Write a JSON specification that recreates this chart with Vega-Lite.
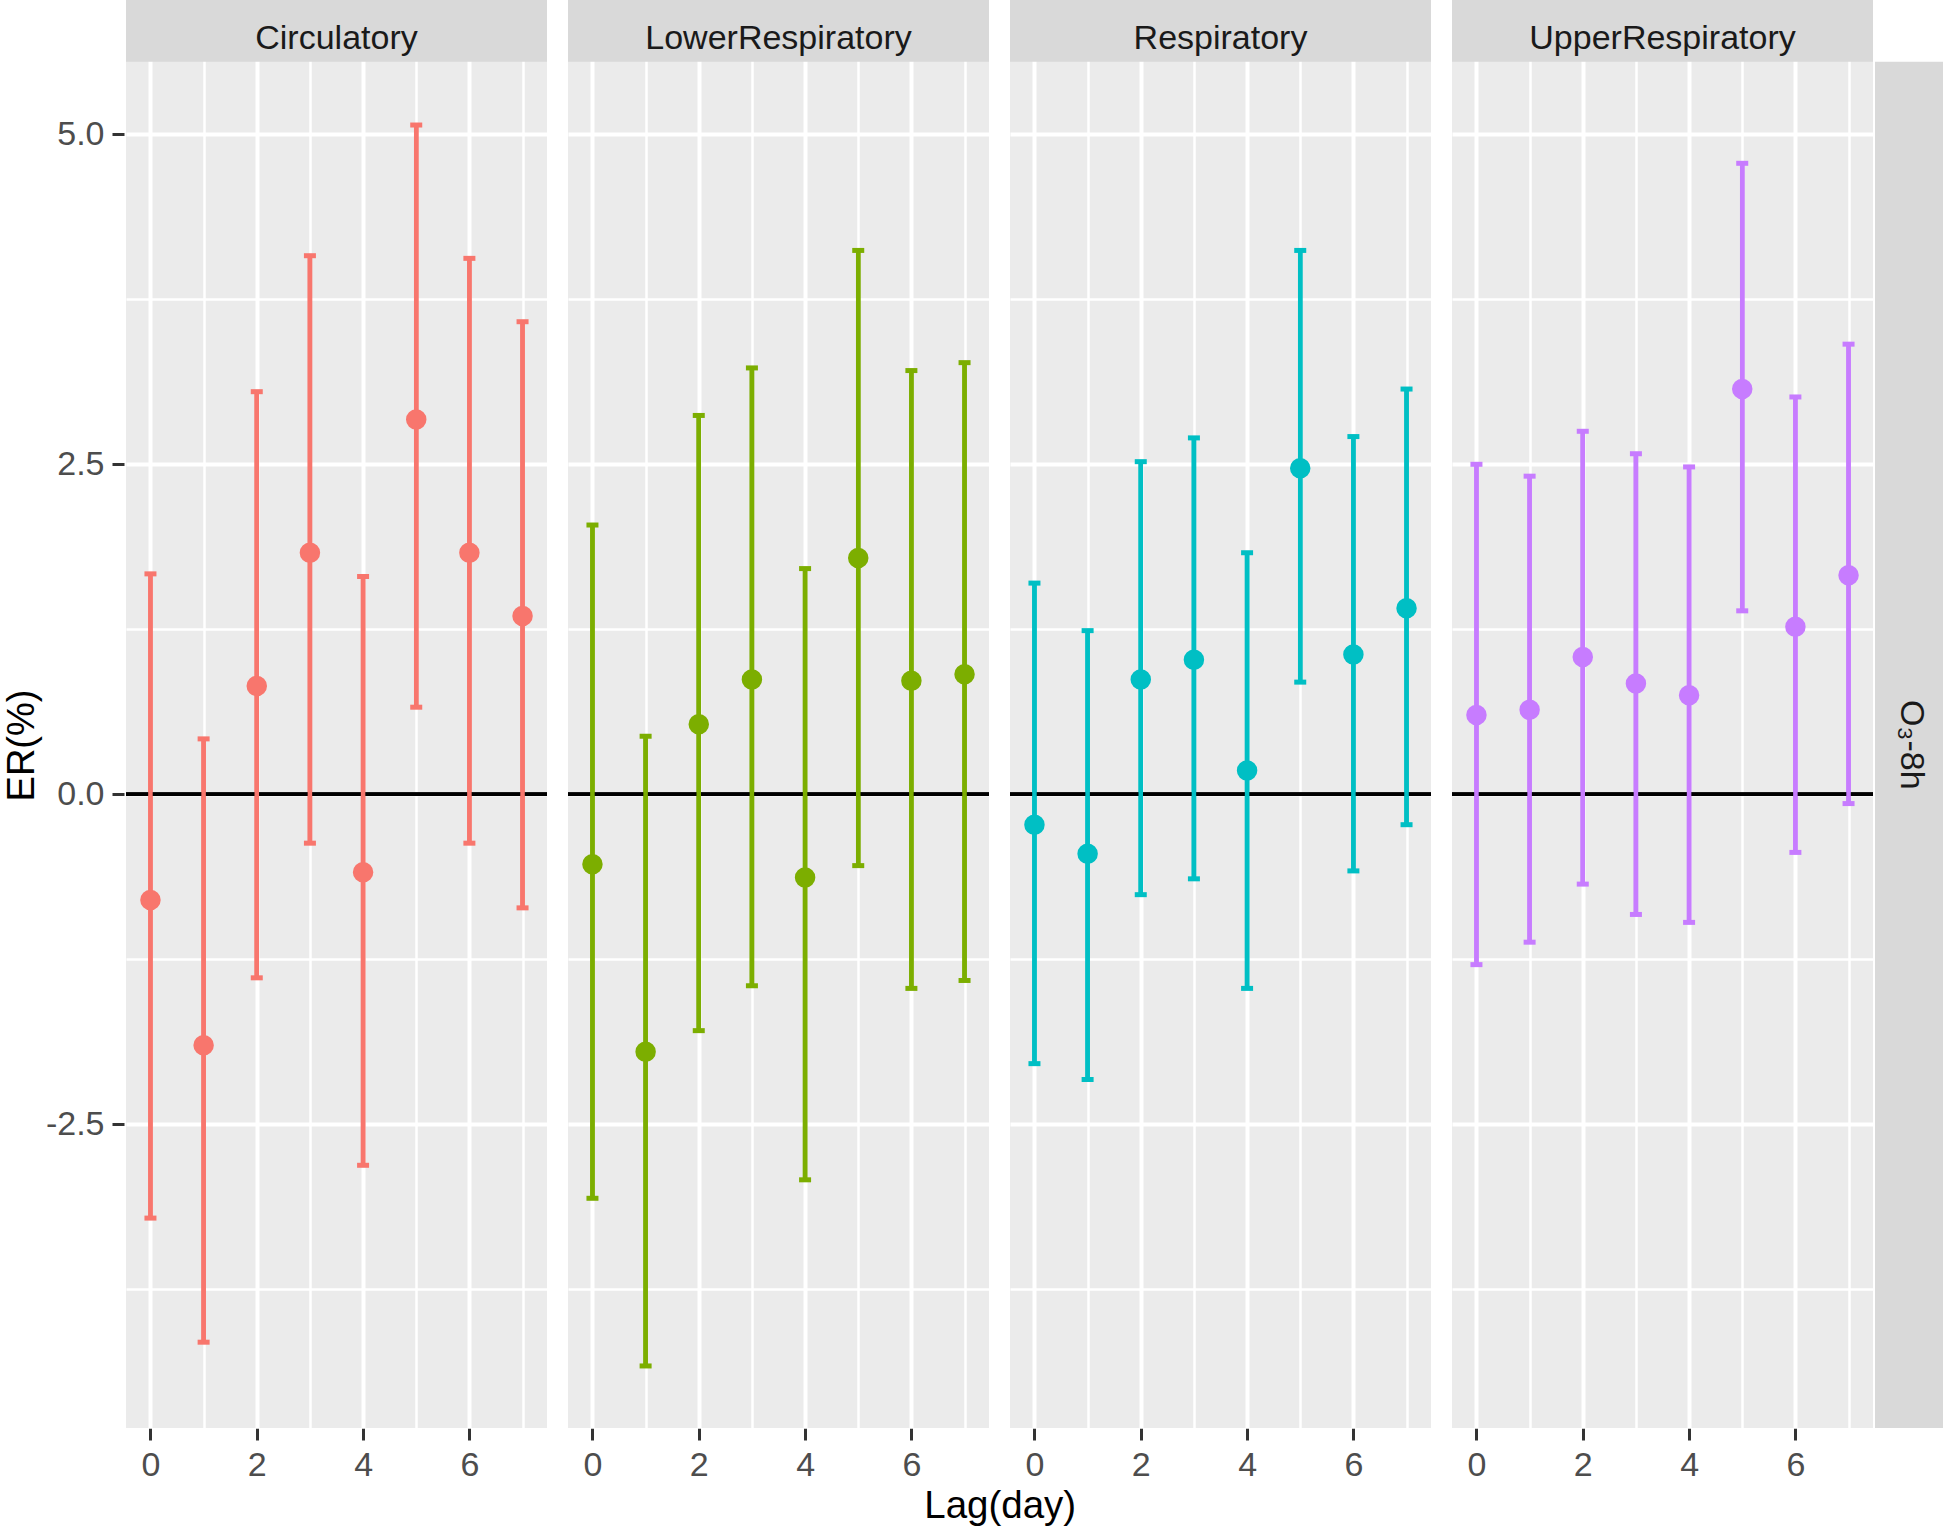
{
  "$schema": "https://vega.github.io/schema/vega-lite/v6.json",
  "padding": {"left": 3, "top": 0, "right": 0, "bottom": 0},
  "background": "white",
  "title": {"text": "Lag(day)", "orient": "bottom", "anchor": "middle", "fontSize": 38.5, "font": "Liberation Sans", "fontWeight": "normal", "color": "#000000", "offset": 6, "dx": 25},
  "datasets": {
    "er": [
      {"outcome": "Circulatory", "lag": 0, "er": -0.80, "lo": -3.21, "hi": 1.67},
      {"outcome": "Circulatory", "lag": 1, "er": -1.90, "lo": -4.15, "hi": 0.42},
      {"outcome": "Circulatory", "lag": 2, "er": 0.82, "lo": -1.39, "hi": 3.05},
      {"outcome": "Circulatory", "lag": 3, "er": 1.83, "lo": -0.37, "hi": 4.08},
      {"outcome": "Circulatory", "lag": 4, "er": -0.59, "lo": -2.81, "hi": 1.65},
      {"outcome": "Circulatory", "lag": 5, "er": 2.84, "lo": 0.66, "hi": 5.07},
      {"outcome": "Circulatory", "lag": 6, "er": 1.83, "lo": -0.37, "hi": 4.06},
      {"outcome": "Circulatory", "lag": 7, "er": 1.35, "lo": -0.86, "hi": 3.58},
      {"outcome": "LowerRespiratory", "lag": 0, "er": -0.53, "lo": -3.06, "hi": 2.04},
      {"outcome": "LowerRespiratory", "lag": 1, "er": -1.95, "lo": -4.33, "hi": 0.44},
      {"outcome": "LowerRespiratory", "lag": 2, "er": 0.53, "lo": -1.79, "hi": 2.87},
      {"outcome": "LowerRespiratory", "lag": 3, "er": 0.87, "lo": -1.45, "hi": 3.23},
      {"outcome": "LowerRespiratory", "lag": 4, "er": -0.63, "lo": -2.92, "hi": 1.71},
      {"outcome": "LowerRespiratory", "lag": 5, "er": 1.79, "lo": -0.54, "hi": 4.12},
      {"outcome": "LowerRespiratory", "lag": 6, "er": 0.86, "lo": -1.47, "hi": 3.21},
      {"outcome": "LowerRespiratory", "lag": 7, "er": 0.91, "lo": -1.41, "hi": 3.27},
      {"outcome": "Respiratory", "lag": 0, "er": -0.23, "lo": -2.04, "hi": 1.60},
      {"outcome": "Respiratory", "lag": 1, "er": -0.45, "lo": -2.16, "hi": 1.24},
      {"outcome": "Respiratory", "lag": 2, "er": 0.87, "lo": -0.76, "hi": 2.52},
      {"outcome": "Respiratory", "lag": 3, "er": 1.02, "lo": -0.64, "hi": 2.70},
      {"outcome": "Respiratory", "lag": 4, "er": 0.18, "lo": -1.47, "hi": 1.83},
      {"outcome": "Respiratory", "lag": 5, "er": 2.47, "lo": 0.85, "hi": 4.12},
      {"outcome": "Respiratory", "lag": 6, "er": 1.06, "lo": -0.58, "hi": 2.71},
      {"outcome": "Respiratory", "lag": 7, "er": 1.41, "lo": -0.23, "hi": 3.07},
      {"outcome": "UpperRespiratory", "lag": 0, "er": 0.60, "lo": -1.29, "hi": 2.50},
      {"outcome": "UpperRespiratory", "lag": 1, "er": 0.64, "lo": -1.12, "hi": 2.41},
      {"outcome": "UpperRespiratory", "lag": 2, "er": 1.04, "lo": -0.68, "hi": 2.75},
      {"outcome": "UpperRespiratory", "lag": 3, "er": 0.84, "lo": -0.91, "hi": 2.58},
      {"outcome": "UpperRespiratory", "lag": 4, "er": 0.75, "lo": -0.97, "hi": 2.48},
      {"outcome": "UpperRespiratory", "lag": 5, "er": 3.07, "lo": 1.39, "hi": 4.78},
      {"outcome": "UpperRespiratory", "lag": 6, "er": 1.27, "lo": -0.44, "hi": 3.01},
      {"outcome": "UpperRespiratory", "lag": 7, "er": 1.66, "lo": -0.07, "hi": 3.41}
    ]
  },
  "spacing": -2,
  "resolve": {"scale": {"x": "independent", "y": "independent"}},
  "hconcat": [
    {
      "data": {"name": "er"},
      "facet": {"column": {"field": "outcome", "type": "nominal", "header": {"labels": false, "title": null, "labelPadding": 0, "titlePadding": 0}, "sort": ["Circulatory", "LowerRespiratory", "Respiratory", "UpperRespiratory"]}},
      "spacing": 17,
      "spec": {
        "width": 421,
        "height": 1428,
        "view": {"fill": "#EBEBEB", "stroke": null},
        "layer": [
          {
            "mark": {"type": "rule", "strokeWidth": 4.5},
            "encoding": {
              "x": {"field": "lag", "type": "quantitative", "title": null,
                "scale": {"domain": [-0.46, 7.46], "nice": false, "zero": false},
                "axis": {
                  "values": [0, 1, 2, 3, 4, 5, 6, 7],
                  "labelExpr": "datum.value % 2 === 0 ? datum.label : ''",
                  "gridWidth": {"condition": {"test": "datum.value % 2 === 0", "value": 4}, "value": 2.5},
                  "tickOpacity": {"condition": {"test": "datum.value % 2 === 0", "value": 1}, "value": 0},
                  "labelPadding": 8
                }
              },
              "y": {"field": "lo", "type": "quantitative", "title": "ER(%)",
                "scale": {"domain": [-4.8, 6.017], "nice": false, "zero": false},
                "axis": {
                  "values": [-3.75, -2.5, -1.25, 0, 1.25, 2.5, 3.75, 5],
                  "labelExpr": "abs(datum.value % 2.5) < 0.001 ? (datum.value < 0 ? '-' : '') + format(abs(datum.value), '.1f') : ''",
                  "gridWidth": {"condition": {"test": "abs(datum.value % 2.5) < 0.001", "value": 4}, "value": 2.5},
                  "tickOpacity": {"condition": {"test": "abs(datum.value % 2.5) < 0.001", "value": 1}, "value": 0},
                  "labelPadding": 8,
                  "titlePadding": 4,
                  "titleY": 745
                }
              },
              "y2": {"field": "hi"},
              "color": {"field": "outcome", "type": "nominal", "legend": null,
                "scale": {"domain": ["Circulatory", "LowerRespiratory", "Respiratory", "UpperRespiratory"], "range": ["#F8766D", "#7CAE00", "#00BFC4", "#C77CFF"]}}
            }
          },
          {
            "transform": [{"filter": "datum.lag == 0"}],
            "mark": {"type": "rect", "color": "#D9D9D9"},
            "encoding": {
              "x": {"datum": -0.46, "type": "quantitative"},
              "x2": {"datum": 7.46},
              "y": {"datum": 5.55, "type": "quantitative"},
              "y2": {"datum": 6.017}
            }
          },
          {
            "transform": [{"filter": "datum.lag == 0"}],
            "mark": {"type": "text", "fontSize": 34, "font": "Liberation Sans", "color": "#1A1A1A", "align": "center", "baseline": "alphabetic"},
            "encoding": {
              "x": {"datum": 3.5, "type": "quantitative"},
              "y": {"datum": 5.646, "type": "quantitative"},
              "text": {"field": "outcome", "type": "nominal"}
            }
          },
          {
            "mark": {"type": "rule", "color": "#000000", "strokeWidth": 3},
            "encoding": {"y": {"datum": 0, "type": "quantitative"}}
          },
          {
            "mark": {"type": "rule", "strokeWidth": 4.5},
            "encoding": {
              "x": {"field": "lag", "type": "quantitative"},
              "y": {"field": "lo", "type": "quantitative"},
              "y2": {"field": "hi"},
              "color": {"field": "outcome", "type": "nominal", "legend": null}
            }
          },
          {
            "mark": {"type": "tick", "orient": "horizontal", "size": 12, "thickness": 5, "opacity": 1},
            "encoding": {
              "x": {"field": "lag", "type": "quantitative"},
              "y": {"field": "lo", "type": "quantitative"},
              "color": {"field": "outcome", "type": "nominal", "legend": null}
            }
          },
          {
            "mark": {"type": "tick", "orient": "horizontal", "size": 12, "thickness": 5, "opacity": 1},
            "encoding": {
              "x": {"field": "lag", "type": "quantitative"},
              "y": {"field": "hi", "type": "quantitative"},
              "color": {"field": "outcome", "type": "nominal", "legend": null}
            }
          },
          {
            "mark": {"type": "point", "filled": true, "size": 420, "opacity": 1},
            "encoding": {
              "x": {"field": "lag", "type": "quantitative"},
              "y": {"field": "er", "type": "quantitative"},
              "color": {"field": "outcome", "type": "nominal", "legend": null}
            }
          }
        ]
      }
    },
    {
      "width": 72,
      "height": 1428,
      "view": {"fill": null, "stroke": null},
      "data": {"values": [{"label": "O₃-8h"}]},
      "layer": [
        {
          "mark": {"type": "rect", "color": "#D9D9D9"},
          "encoding": {
            "x": {"datum": 0, "type": "quantitative", "scale": {"domain": [0, 1], "nice": false, "zero": false}, "axis": null},
            "x2": {"datum": 1},
            "y": {"datum": -4.8, "type": "quantitative", "scale": {"domain": [-4.8, 6.017], "nice": false, "zero": false}, "axis": null},
            "y2": {"datum": 5.55}
          }
        },
        {
          "mark": {"type": "text", "angle": 90, "fontSize": 34, "font": "Liberation Sans", "color": "#1A1A1A", "align": "center", "baseline": "middle"},
          "encoding": {
            "x": {"datum": 0.5, "type": "quantitative", "axis": null},
            "y": {"datum": 0.375, "type": "quantitative", "axis": null},
            "text": {"field": "label", "type": "nominal"}
          }
        }
      ]
    }
  ],
  "config": {
    "font": "Liberation Sans",
    "view": {"stroke": null},
    "axis": {
      "domain": false,
      "labelFont": "Liberation Sans",
      "labelFontSize": 34,
      "labelColor": "#4D4D4D",
      "tickColor": "#333333",
      "tickWidth": 3,
      "tickSize": 12,
      "gridColor": "#FFFFFF",
      "titleFont": "Liberation Sans",
      "titleFontSize": 38,
      "titleColor": "#000000",
      "titleFontWeight": "normal"
    }
  }
}
